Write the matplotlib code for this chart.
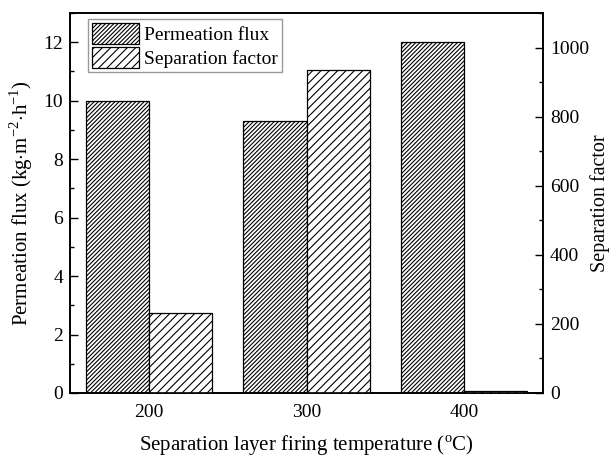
import matplotlib.pyplot as plt
import numpy as np
from matplotlib.ticker import MultipleLocator

plt.rcParams["font.family"] = ["Liberation Serif", "DejaVu Serif"]
plt.rcParams["hatch.linewidth"] = 0.8
plt.rcParams["mathtext.fontset"] = "custom"
plt.rcParams["mathtext.rm"] = "Liberation Serif"

# Firing temperature groups and measured values
temps = ["200", "300", "400"]
flux = [10.0, 9.3, 12.0]          # kg m-2 h-1
sep_factor = [233, 936, 7]

x = np.arange(len(temps))
width = 0.4

fig = plt.figure(figsize=(6.11, 4.59), dpi=100)
ax = fig.add_axes([0.1146, 0.1438, 0.7741, 0.8279])
ax2 = ax.twinx()

b1 = ax.bar(x - width / 2, flux, width, color="white", edgecolor="black",
            hatch="////////", linewidth=0.9, label="Permeation flux")
b2 = ax2.bar(x + width / 2, sep_factor, width, color="white", edgecolor="black",
             hatch="////", linewidth=0.9, label="Separation factor")

ax.set_xlim(-0.5, 2.5)
ax.set_ylim(0, 13)
ax2.set_ylim(0, 1100)

ax.set_xticks(x)
ax.set_xticklabels(temps)
ax.yaxis.set_major_locator(MultipleLocator(2))
ax.yaxis.set_minor_locator(MultipleLocator(1))
ax2.yaxis.set_major_locator(MultipleLocator(200))
ax2.yaxis.set_minor_locator(MultipleLocator(100))

ax.tick_params(axis="y", which="major", direction="in", length=6, width=1, labelsize=14, pad=5)
ax.tick_params(axis="y", which="minor", direction="in", length=3, width=1)
ax.tick_params(axis="x", which="both", length=0, labelsize=14, pad=8)
ax2.tick_params(axis="y", which="major", direction="in", length=6, width=1, labelsize=14, pad=5)
ax2.tick_params(axis="y", which="minor", direction="in", length=3, width=1)

for a in (ax, ax2):
    for s in a.spines.values():
        s.set_linewidth(1.2)

ax.set_ylabel(r"Permeation flux (kg$\cdot$m$^{-2}$$\cdot$h$^{-1}$)", fontsize=15, labelpad=6)
ax2.set_ylabel("Separation factor", fontsize=14.5, labelpad=1)
ax.set_xlabel(r"Separation layer firing temperature ($^{\rm o}$C)", fontsize=15, labelpad=9)

leg = ax.legend([b1, b2], ["Permeation flux", "Separation factor"], loc="upper left",
                bbox_to_anchor=(0.03, 0.995), fontsize=14, frameon=True, fancybox=False,
                edgecolor="gray", handlelength=2.4, handleheight=1.3, handletextpad=0.3,
                borderpad=0.2, labelspacing=0.15, borderaxespad=0.2)
leg.get_frame().set_linewidth(1.0)

fig.savefig("out.png", dpi=100)
